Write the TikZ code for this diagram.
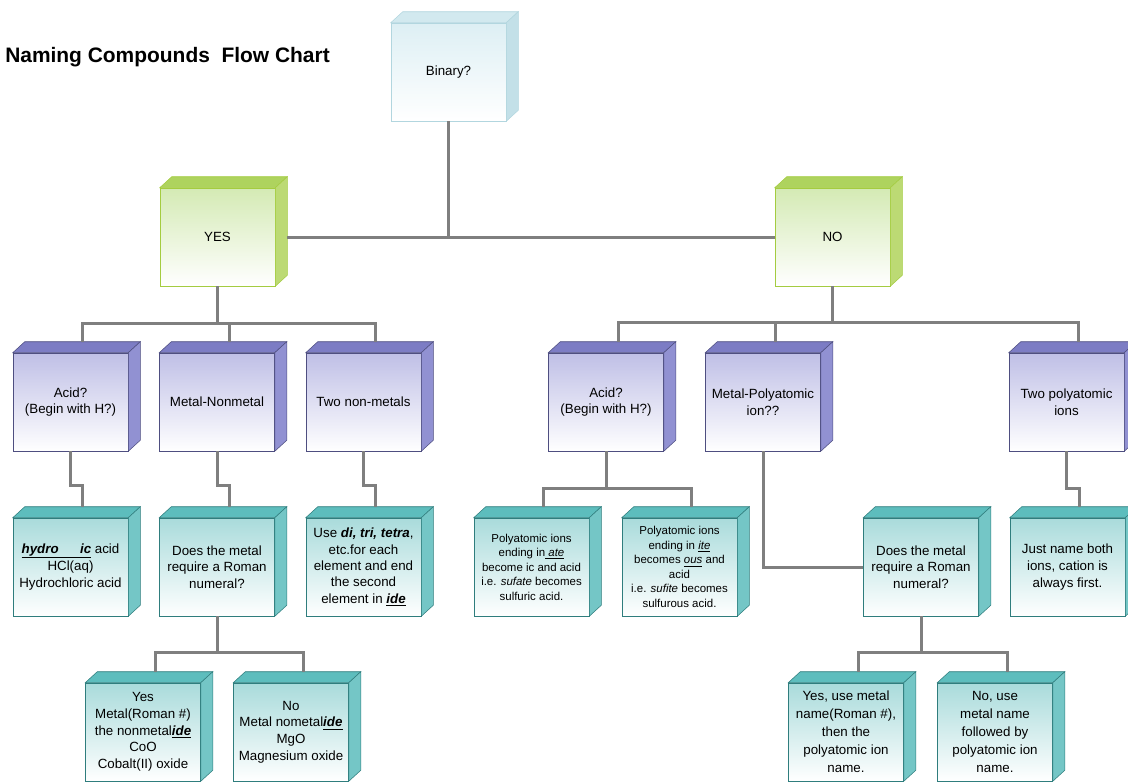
\documentclass[tikz,border=0pt]{standalone}
\usepackage{fontspec}
\setmainfont{Liberation Sans}
\usetikzlibrary{calc}

% box colours: front (top of gradient), top face, side face, border
\definecolor{bluefront}{HTML}{DDEFF4}
\definecolor{bluetop}{HTML}{D2E9EF}
\definecolor{blueside}{HTML}{C3E0E8}
\definecolor{blueline}{HTML}{B2D6DF}
\definecolor{greenfront}{HTML}{D4EAB4}
\definecolor{greentop}{HTML}{AED35E}
\definecolor{greenside}{HTML}{BCDA74}
\definecolor{greenline}{HTML}{A4CC40}
\definecolor{purpfront}{HTML}{BFBFE6}
\definecolor{purptop}{HTML}{7C7CC4}
\definecolor{purpside}{HTML}{9191D2}
\definecolor{purpline}{HTML}{4E4E80}
\definecolor{tealfront}{HTML}{A9DBDB}
\definecolor{tealtop}{HTML}{5DBDBD}
\definecolor{tealside}{HTML}{74C6C6}
\definecolor{tealline}{HTML}{2F7D7D}
\definecolor{linkgray}{HTML}{7F7F7F}

\tikzset{
  cube/.style={rectangle, draw=#1line, top color=#1front, bottom color=white,
    minimum width=86.25pt, minimum height=73.5pt, inner sep=1pt, align=center,
    font=\fontsize{10}{12.5}\selectfont},
  small/.style={font=\fontsize{8.6}{10.9}\selectfont},
  conn/.style={draw=linkgray, line width=2.25pt},
}

% top and right faces of a box
\newcommand{\cubesides}[2]{%
  \filldraw[fill=#2top, draw=#2line] (#1.north west) -- ++(12,-11)
    -- ([shift={(12,-11)}]#1.north east) -- (#1.north east) -- cycle;
  \filldraw[fill=#2side, draw=#2line] (#1.north east) -- ++(12,-11)
    -- ([shift={(12,-11)}]#1.south east) -- (#1.south east) -- cycle;
}

\begin{document}
\begin{tikzpicture}[x=0.75pt, y=-0.75pt]
  \clip (0,0) rectangle (1128,782);

  \node[anchor=base west, inner sep=0pt, font=\fontsize{15.7}{18}\selectfont\bfseries] (title) at (5,62) {Naming Compounds\ \ Flow Chart};

  % first levels
  \node[cube=blue] (bin) at (448.5,72) {Binary?};
  \node[cube=green] (yes) at (217.5,237) {YES};
  \node[cube=green] (no) at (832.5,237) {NO};

  % purple row
  \node[cube=purp] (acid1) at (70.5,402) {Acid?\\(Begin with H?)};
  \node[cube=purp] (mnm) at (217,402) {Metal-Nonmetal};
  \node[cube=purp] (tnm) at (363.5,402) {Two non-metals};
  \node[cube=purp] (acid2) at (606,402) {Acid?\\(Begin with H?)};
  \node[cube=purp] (mpi) at (763,402) {Metal-Polyatomic\\ion??};
  \node[cube=purp] (tpi) at (1066.5,402) {Two polyatomic\\ions};

  % teal row
  \node[cube=teal, font=\fontsize{10}{13}\selectfont] (hydro) at (70.5,567) {\underline{\textbf{\textit{hydro}}\hspace{1.6em}\textbf{\textit{ic}}} acid\\HCl(aq)\\Hydrochloric acid};
  \node[cube=teal] (roman1) at (217,567) {Does the metal\\require a Roman\\numeral?};
  \node[cube=teal, font=\fontsize{10}{12.3}\selectfont] (usedi) at (363.5,567) {Use \textbf{\textit{di, tri, tetra}},\\etc.for each\\element and end\\the second\\element in \underline{\textbf{\textit{ide}}}};
  \node[cube=teal, small] (ate) at (531.5,567) {Polyatomic ions\\ending in\underline{\ \textit{ate}}\\become ic and acid\\i.e. \textit{sufate} becomes\\sulfuric acid.};
  \node[cube=teal, small] (ite) at (679.5,567) {Polyatomic ions\\ending in \underline{\textit{ite}}\\becomes \underline{\textit{ous}} and\\acid\\i.e. \textit{sufite} becomes\\sulfurous acid.};
  \node[cube=teal] (roman2) at (921,567) {Does the metal\\require a Roman\\numeral?};
  \node[cube=teal] (just) at (1067.5,567) {Just name both\\ions, cation is\\always first.};

  % bottom row
  \node[cube=teal] (yesm) at (143,732) {Yes\\Metal(Roman \#)\\the nonmetal\underline{\textbf{\textit{ide}}}\\CoO\\Cobalt(II) oxide};
  \node[cube=teal] (nom) at (291,732) {No\\Metal nometal\underline{\textbf{\textit{ide}}}\\MgO\\Magnesium oxide};
  \node[cube=teal, font=\fontsize{10}{13.5}\selectfont] (yesp) at (846,732) {Yes, use metal\\name(Roman \#),\\then the\\polyatomic ion\\name.};
  \node[cube=teal, font=\fontsize{10}{13.5}\selectfont] (nop) at (995,732) {No, use\\metal name\\followed by\\polyatomic ion\\name.};

  % 3D faces
  \cubesides{bin}{blue}
  \foreach \n in {yes,no} {\cubesides{\n}{green}}
  \foreach \n in {acid1,mnm,tnm,acid2,mpi,tpi} {\cubesides{\n}{purp}}
  \foreach \n in {hydro,roman1,usedi,ate,ite,roman2,just,yesm,nom,yesp,nop} {\cubesides{\n}{teal}}

  % back top centre of each box, where connectors end
  \foreach \n in {acid1,mnm,tnm,acid2,mpi,tpi,hydro,roman1,usedi,ate,ite,just,yesm,nom,yesp,nop}
    \coordinate (\n-t) at ([shift={(12,-11)}]\n.north);

  % connectors
  \draw[conn] (bin.south) -- (bin.south |- yes.east);
  \draw[conn] ([shift={(12,0)}]yes.east) -- (no.west);

  \draw[conn] (yes.south) -- ++(0,37) coordinate (yhub);
  \draw[conn] (acid1-t) |- (yhub) -| (tnm-t);
  \draw[conn] (mnm-t) -- (mnm-t |- yhub);

  \draw[conn] (no.south) -- ++(0,36) coordinate (nhub);
  \draw[conn] (acid2-t) |- (nhub) -| (tpi-t);
  \draw[conn] (mpi-t) -- (mpi-t |- nhub);

  \foreach \a/\b in {acid1/hydro, mnm/roman1, tnm/usedi}
    \draw[conn] (\a.south) -- ++(0,34) -| (\b-t);
  \draw[conn] (tpi.south) -- ++(0,37) -| (just-t);

  \draw[conn] (acid2.south) -- ++(0,37) coordinate (ahub);
  \draw[conn] (ate-t) |- (ahub) -| (ite-t);
  \draw[conn] (mpi.south) |- (roman2.west);

  \draw[conn] (roman1.south) -- ++(0,36) coordinate (rhub);
  \draw[conn] (yesm-t) |- (rhub) -| (nom-t);
  \draw[conn] (roman2.south) -- ++(0,36) coordinate (phub);
  \draw[conn] (yesp-t) |- (phub) -| (nop-t);
\end{tikzpicture}
\end{document}
